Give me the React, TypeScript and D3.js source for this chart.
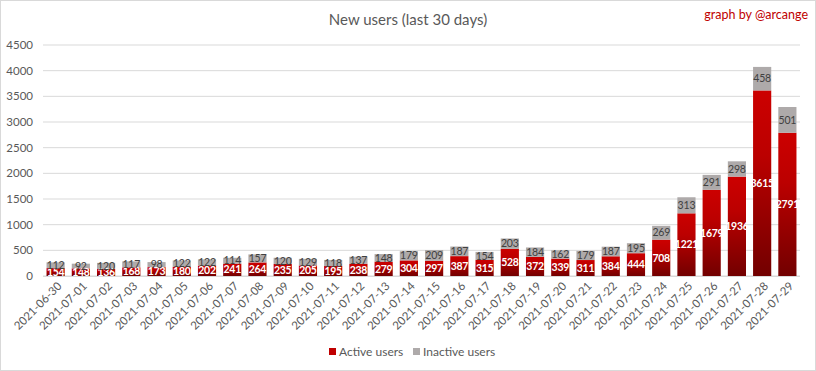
import React from "react";
import * as d3 from "d3";

const dates = [
  "2021-06-30","2021-07-01","2021-07-02","2021-07-03","2021-07-04","2021-07-05","2021-07-06","2021-07-07","2021-07-08","2021-07-09",
  "2021-07-10","2021-07-11","2021-07-12","2021-07-13","2021-07-14","2021-07-15","2021-07-16","2021-07-17","2021-07-18","2021-07-19",
  "2021-07-20","2021-07-21","2021-07-22","2021-07-23","2021-07-24","2021-07-25","2021-07-26","2021-07-27","2021-07-28","2021-07-29",
];
const activeUsers = [154,148,136,168,173,180,202,241,264,235,205,195,238,279,304,297,387,315,528,372,339,311,384,444,708,1221,1679,1936,3615,2791];
const inactiveUsers = [112,92,120,117,98,122,122,114,157,120,129,118,137,148,179,209,187,154,203,184,162,179,187,195,269,313,291,298,458,501];
const yTicks = [0,500,1000,1500,2000,2500,3000,3500,4000,4500];

const W = 816, H = 371;
const FONT = "Lato, 'Open Sans', sans-serif";

export default function App() {
  const x = d3.scaleBand<string>().domain(dates).range([43, 800]).paddingInner(0.28).paddingOuter(0.14);
  const y = d3.scaleLinear().domain([0, 4500]).range([276, 45]);
  const bw = x.bandwidth();
  return (
    <svg width={W} height={H} style={{ position: "absolute", left: 0, top: 0 }}>
      <defs>
        <linearGradient id="redGrad" x1="0" y1="0" x2="0" y2="1">
          <stop offset="0%" stopColor="#cc0000" />
          <stop offset="35%" stopColor="#bb0000" />
          <stop offset="100%" stopColor="#720000" />
        </linearGradient>
      </defs>
      <rect x={0.5} y={0.5} width={W - 1} height={H - 1} fill="#fff" stroke="#d9d9d9" />
      <text x={408} y={25} textAnchor="middle" fontFamily={FONT} fontSize={15} fill="#595959">New users (last 30 days)</text>
      <text x={808} y={19} textAnchor="end" fontFamily={FONT} fontSize={12.5} fill="#c00000">graph by @arcange</text>
      {yTicks.map((t) => (
        <g key={t}>
          <line x1={43} x2={800} y1={y(t)} y2={y(t)} stroke="#d9d9d9" strokeWidth={1} />
          <text x={33} y={y(t)} dy="0.35em" textAnchor="end" fontFamily={FONT} fontSize={11.5} fill="#595959">{t}</text>
        </g>
      ))}
      {dates.map((d, i) => {
        const x0 = x(d)!;
        const a = activeUsers[i];
        const b = inactiveUsers[i];
        const ya = y(a);
        const yb = y(a + b);
        return (
          <g key={d}>
            <rect x={x0} y={ya} width={bw} height={y(0) - ya} fill="url(#redGrad)" />
            <rect x={x0} y={yb} width={bw} height={ya - yb} fill="#aeaaaa" />
            <text x={x0 + bw / 2} y={(ya + y(0)) / 2} dy="0.35em" textAnchor="middle" fontFamily={FONT} fontSize={10.5} letterSpacing={-0.3} fontWeight="bold" fill="#fff">{a}</text>
            <text x={x0 + bw / 2} y={(ya + yb) / 2} dy="0.35em" textAnchor="middle" fontFamily={FONT} fontSize={10.5} letterSpacing={-0.2} fill="#404040">{b}</text>
            <text transform={`translate(${x0 + bw / 2 + 4},${284}) rotate(-45)`} textAnchor="end" dy="0.35em" fontFamily={FONT} fontSize={11.5} fill="#595959">{d}</text>
          </g>
        );
      })}
      <line x1={43} x2={800} y1={y(0) + 0.5} y2={y(0) + 0.5} stroke="#d9d9d9" />
      <rect x={329} y={348} width={7} height={7} fill="#c00000" />
      <text x={339} y={352} dy="0.35em" fontFamily={FONT} fontSize={12} fill="#595959">Active users</text>
      <rect x={413} y={348} width={7} height={7} fill="#aeaaaa" />
      <text x={423} y={352} dy="0.35em" fontFamily={FONT} fontSize={12} fill="#595959">Inactive users</text>
    </svg>
  );
}
